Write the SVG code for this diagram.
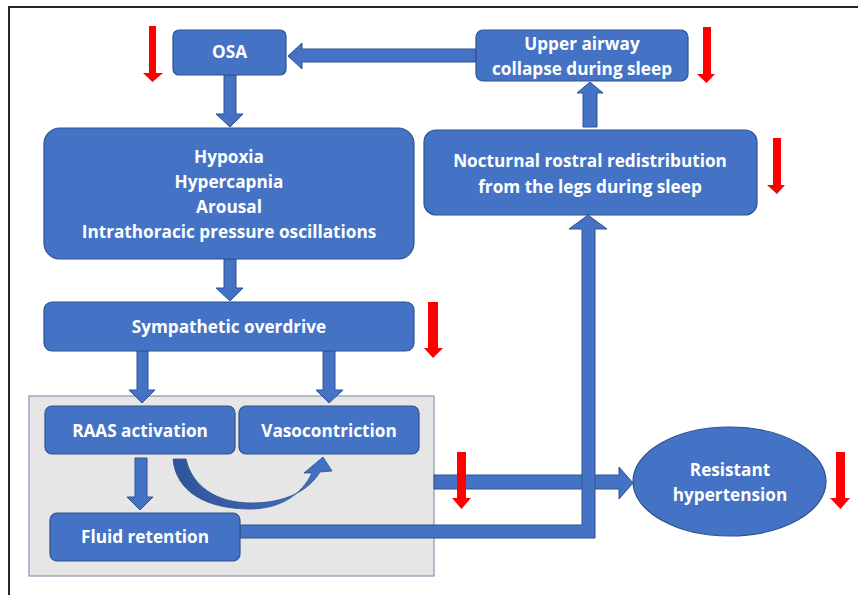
<svg xmlns="http://www.w3.org/2000/svg" width="858" height="595" viewBox="0 0 858 595">
<defs>
<style>
.box{fill:#4472c4;stroke:#2f528f;stroke-width:1.2}
.arr{fill:#4472c4;stroke:#2f528f;stroke-width:1}
.red{fill:#ff0000}
.t{font-family:"Open Sans","Liberation Sans",sans-serif;font-weight:700;font-size:17.2px;fill:#ffffff;text-anchor:middle}
</style>
<linearGradient id="cg" x1="0" y1="0" x2="1" y2="0">
<stop offset="0" stop-color="#2f5597"/>
<stop offset="0.5" stop-color="#3a62b0"/>
<stop offset="1" stop-color="#4472c4"/>
</linearGradient>
</defs>
<rect x="0" y="0" width="858" height="595" fill="#ffffff"/>
<path d="M9,595 V7 H858" fill="none" stroke="#262626" stroke-width="2"/>

<g id="group-box">
<rect x="29" y="396" width="405" height="180" fill="#e7e6e6" stroke="#8497b0" stroke-width="1.2"/>
</g>

<g id="connectors">
<path class="arr" d="M224,75 H236 V114 H243 L230,127 L216,114 H224 Z"/>
<path class="arr" d="M224,259 H236 V288 H243 L230,301 L216,288 H224 Z"/>
<path class="arr" d="M137,351 H148 V390 H155 L142,403 L129,390 H137 Z"/>
<path class="arr" d="M323,351 H335 V390 H343 L329,403 L316,390 H323 Z"/>
<path class="arr" d="M135,458 H147 V497 H153 L140,510 L127,497 H135 Z"/>
<path class="arr" d="M476,49 V62 H302 V69 L288,56 L302,43 V49 Z"/>
<path class="arr" d="M583,127 V93 H577 L590,82 L603,93 H597 V127 Z"/>
<path class="arr" d="M434,475 H619 V467 L633,483 L619,499 V489 H434 Z"/>
<path class="arr" d="M240,525 H582 V229 H569 L588,215 L607,229 H595 V538 H240 Z"/>
<path d="M173,459 C176,493 208,509 250,509 C281,509 302,494 312,473 L304,473 L323,457 L332,471 L320,472 C308,492 283,503 252,503 C216,503 192,486 186,459 Z" fill="url(#cg)" stroke="#2f528f" stroke-width="0.8"/>
</g>

<g id="node-osa">
<rect class="box" x="173" y="30" width="113" height="45" rx="6"/>
<text class="t" x="229.5" y="58">OSA</text>
</g>

<g id="node-hypoxia">
<rect class="box" x="44" y="128" width="370" height="131" rx="16"/>
<text class="t" x="229" y="163">Hypoxia</text>
<text class="t" x="229" y="188">Hypercapnia</text>
<text class="t" x="229" y="213">Arousal</text>
<text class="t" x="229" y="238">Intrathoracic pressure oscillations</text>
</g>

<g id="node-sympathetic">
<rect class="box" x="44" y="302" width="370" height="49" rx="8"/>
<text class="t" x="229" y="333">Sympathetic overdrive</text>
</g>

<g id="node-raas">
<rect class="box" x="45" y="406" width="190" height="48" rx="7"/>
<text class="t" x="140" y="437">RAAS activation</text>
</g>

<g id="node-vaso">
<rect class="box" x="239" y="406" width="180" height="48" rx="7"/>
<text class="t" x="329" y="437">Vasocontriction</text>
</g>

<g id="node-fluid">
<rect class="box" x="50" y="513" width="190" height="48" rx="7"/>
<text class="t" x="145" y="543">Fluid retention</text>
</g>

<g id="node-upper">
<rect class="box" x="476" y="30" width="212" height="51" rx="7"/>
<text class="t" x="582" y="50">Upper airway</text>
<text class="t" x="582" y="75">collapse during sleep</text>
</g>

<g id="node-nocturnal">
<rect class="box" x="424" y="130" width="333" height="85" rx="12"/>
<text class="t" x="590" y="167">Nocturnal rostral redistribution</text>
<text class="t" x="590" y="193">from the legs during sleep</text>
</g>

<g id="node-resistant">
<ellipse class="box" cx="729.5" cy="481.5" rx="96.5" ry="54.5"/>
<text class="t" x="730" y="476">Resistant</text>
<text class="t" x="730" y="501">hypertension</text>
</g>

<g id="red-arrows">
<path class="red" d="M149,26 H156 V73 H163 L152.5,82 L143,73 H149 Z"/>
<path class="red" d="M703,27 H711 V74 H715 L706.5,83 L697,74 H703 Z"/>
<path class="red" d="M773,138 H781 V185 H785 L777,194 L767,185 H773 Z"/>
<path class="red" d="M428,302 H438 V348 H443 L433,358 L424,348 H428 Z"/>
<path class="red" d="M457,452 H466 V498 H471 L461.5,509 L452,498 H457 Z"/>
<path class="red" d="M836,452 H845 V498 H850 L840.5,509 L830,498 H836 Z"/>
</g>
</svg>
